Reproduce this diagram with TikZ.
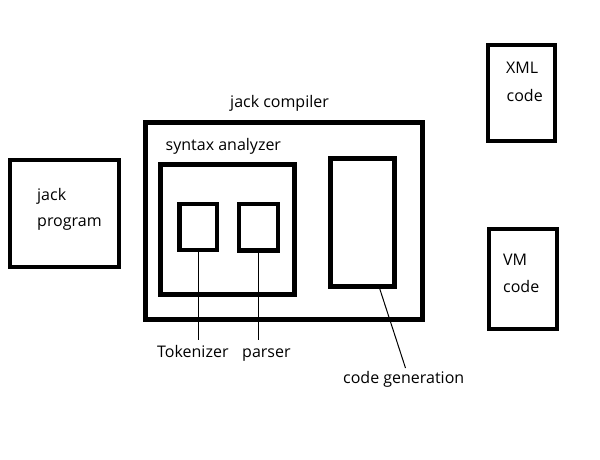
\documentclass[tikz,border=0pt]{standalone}
\usepackage{fontspec}
\setmainfont{Open Sans}
\begin{document}
\begin{tikzpicture}[x=1pt,y=-1pt,
  box/.style 2 args={draw=black,line width=4.6pt,rectangle,inner sep=0pt,outer sep=0pt,minimum width=#1,minimum height=#2},
  lead/.style={draw=black,line width=1pt},
  lbl/.style={inner sep=0pt,anchor=base west,font=\fontsize{16}{26}\selectfont}]
\useasboundingbox (0,0) rectangle (600,460);
\fill[white] (0,0) rectangle (600,460);
% boxes (centre, width, height of the stroke's centre line)
\node[box={109pt}{107pt}] (jackprog) at (64.5,213.5) {};
\node[box={277pt}{197pt}] (compiler) at (284,221) {};
\node[box={134pt}{130pt}] (syntax) at (227.5,229.5) {};
\node[box={37.5pt}{46pt}] (tokbox) at (198.25,227) {};
\node[box={39pt}{46.5pt}] (parbox) at (258.5,227.25) {};
\node[box={64pt}{128pt}] (cgbox) at (362.5,222.5) {};
\node[box={67pt}{96pt}] (xmlbox) at (521.5,93) {};
\node[box={68pt}{100pt}] (vmbox) at (523,279) {};
% leader ends
\coordinate (tokE) at (198.25,340);
\coordinate (parE) at (258.5,340);
\coordinate (cgS) at (379,286.5);
\coordinate (cgE) at (405.5,368);
\draw[lead] (tokbox.south) -- (tokE);
\draw[lead] (parbox.south) -- (parE);
\draw[lead] (cgS) -- (cgE);
% labels
\node[lbl] (jc) at (230,107) {jack compiler};
\node[lbl] (sa) at (165.5,150) {syntax analyzer};
\node[lbl] (jp1) at (37,200) {jack};
\node[lbl] (jp2) at (37,226) {program};
\node[lbl] (x1) at (506,74) {XML};
\node[lbl] (x2) at (506.5,102) {code};
\node[lbl] (v1) at (503,265) {VM};
\node[lbl] (v2) at (503,292) {code};
\node[lbl] (tk) at (157,357) {Tokenizer};
\node[lbl] (ps) at (242,357) {parser};
\node[lbl] (cg) at (343,383) {code generation};
\end{tikzpicture}
\end{document}
